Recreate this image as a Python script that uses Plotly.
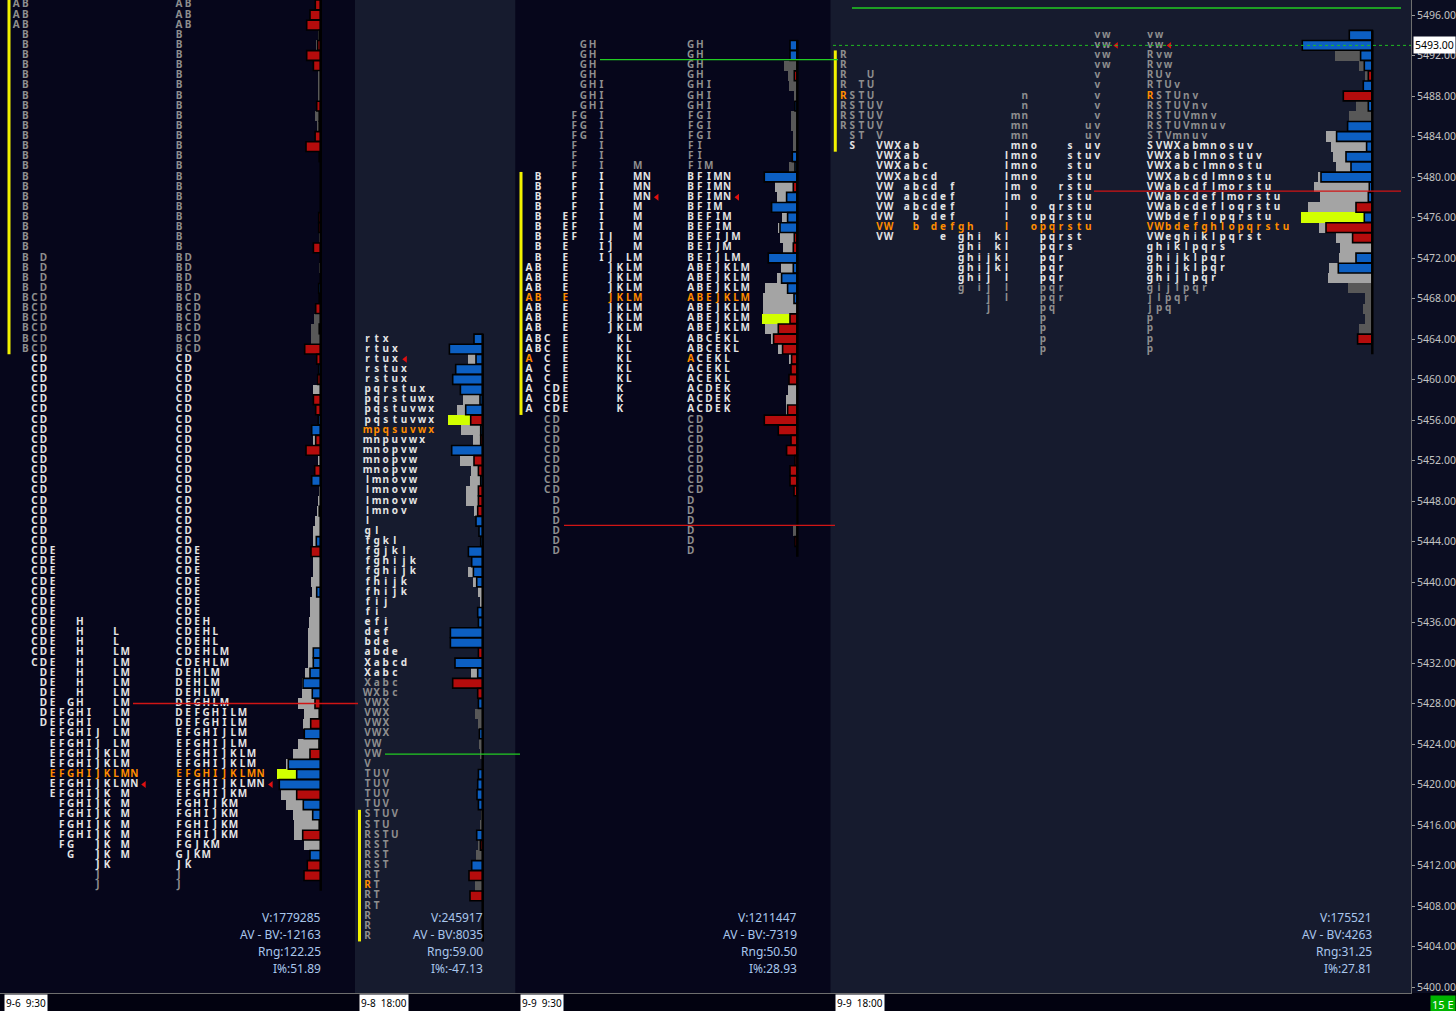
import plotly.graph_objects as go

# ======================= DATA =======================
# ---- Session 1 : 9-6 9:30 (RTH) ----
S1_PERIODS = "ABCDEFGHIJKLMN"
S1_TOP = 5497
S1_RUNS = [("AB", 3), ("B", 22), ("BD", 4), ("BCD", 6), ("CD", 19), ("CDE", 7), ("CDEH", 1),
           ("CDEHL", 2), ("CDEHLM", 2), ("DEHLM", 3), ("DEGHLM", 1), ("DEFGHILM", 2),
           ("EFGHIJLM", 2), ("EFGHIJKLM", 2), ("EFGHIJKLMN", 2), ("EFGHIJKM", 1),
           ("FGHIJKM", 4), ("FGJKM", 1), ("GJKM", 1), ("JK", 1), ("J", 2)]
S1_VOL = [0, 0, 0, 3, 5, 0, 0, 3, 3, 3,
          0, 5.6, 4, 0, 0, 0, 1, 1, 1, 1,
          1, 0, 0, 1.5, 0, 0, 1.5, 1, 0, 0,
          0, 7, 10, 10, 0, 0, 2, 0, 7.3, 0,
          0, 0, 0, 8, 0, 2.5, 0, 0, 2, 3,
          4, 5.5, 7.3, 7.3, 9.6, 7.3, 7.3, 9.6, 9, 10.7,
          10.7, 11.7, 12.3, 13, 13, 13, 15.7, 19, 19, 23,
          16.7, 17.4, 16, 22.4, 28, 34.7, 43.4, 42, 40, 34.7,
          28, 26.4, 26.4, 16.7, 10, 13, 16.7, 0]
S1_DELTA = [-5.4, -10.7, -14, -1.5, -3, -14, -7.3, 0, 0, 0,
            -4, 1.5, -1.5, -5.6, -14.7, -1.5, 0, 0, 0, 0,
            0, -2, -2, 0, -7.3, 0, 0, 0, 2, 1.5,
            -5, 0, -1.5, 0, -16, -4, 2, -3, 0, -7.3,
            -5, 2.5, 9, -5, -14.7, 0, -6, 9, 0, 0,
            1.5, 0, 0, 4.4, -9.7, 0, 0, 0, 4, 0,
            0, 0, 0, 0, 7.4, 7.4, 10.7, 17.7, 8.4, -5.7,
            -1.5, -10, 16.4, 1.7, -10.7, 32.4, 24, 41.4, -24, 17.4,
            8, -1.5, -18, 0, 10.7, -13.4, -16.7, 0]
S1_VA = (5462, 5412)
S1_VOL_VA = (5462, 5412)
S1_POC = 5421
S1_VPOC = 5421
S1_OPEN = None
S1_CLOSE = 5420
S1_IB = (5532, 5463)
S1_STATS = ["V:1779285", "AV - BV:-12163", "Rng:122.25", "I%:51.89"]
S1_LABEL = "9-6\u00a0\u00a09:30"

# ---- Session 2 : 9-8 18:00 (overnight) ----
S2_PERIODS = "RSTUVWXabcdefghijklmnopqrstuvwx"
S2_TOP = 5464
S2_ROWS = ["rtx", "rtux", "rtux", "rstux", "rstux", "pqrstux", "pqrstuwx", "pqstuvwx", "pqstuvwx",
           "mpqsuvwx", "mnpuvwx", "mnopvw", "mnopvw", "mnopvw", "lmnovw", "lmnovw", "lmnovw",
           "lmnov", "l", "gl", "fgkl", "fgjkl", "fghijk", "fghijk", "fhijk", "fhijk", "fij", "fi",
           "efi", "def", "bde", "abde", "Xabcd", "Xabc", "Xabc", "WXbc", "VWX", "VWX", "VWX",
           "VWX", "VW", "VW", "V", "TUV", "TUV", "TUV", "TUV", "STUV", "STU", "RSTU", "RST",
           "RST", "RST", "RT", "RT", "RT", "RT", "R", "R", "R"]
S2_VOL = [0, 0, 14.3, 0, 0, 22, 19.3, 26, 34.7, 21.7,
          10, 0, 22.7, 11.7, 12.7, 16.7, 16.7, 8.3, 0, 0,
          0, 0, 0, 14.3, 9.3, 4.3, 2.7, 0, 0, 0,
          0, 0, 0, 11.7, 0, 0, 0, 7.7, 4.3, 0,
          3.3, 2.7, 0, 0, 0, 0, 0, 2, 2.3, 0,
          4.3, 7, 0, 0, 7.7, 0, 0, 0, 0, 0]
S2_DELTA = [8.7, 33.3, 6.7, 27, 30, 22.3, 2.7, 17, -12, 2,
            -2, 31, -8.7, -4.3, 2, -4.3, -4.3, -5, 6.7, 3.7,
            2, 14.3, 11, 9.3, 6, 0, 0, 5, 4.3, 32.3,
            32.3, -4.3, 27.7, 5, -30, -5, 4.3, 0, 0, 3.3,
            0, 0, 0, 4.3, 5, 5.7, 4.3, 0, 0, 6,
            -2.3, 0, 11, -13.7, 0, -12.7, 0, 0, 0, 0]
S2_VA = (5464, 5431)
S2_VOL_VA = (5464, 5431)
S2_POC = 5455
S2_VPOC = 5456
S2_OPEN = (5410, "R")
S2_CLOSE = 5462
S2_IB = (5417, 5405)
S2_STATS = ["V:245917", "AV - BV:8035", "Rng:59.00", "I%:-47.13"]
S2_LABEL = "9-8\u00a0\u00a018:00"

# ---- Session 3 : 9-9 9:30 (RTH) ----
S3_PERIODS = "ABCDEFGHIJKLMN"
S3_TOP = 5493
S3_RUNS = [("GH", 4), ("GHI", 3), ("FGI", 3), ("FI", 2), ("FIM", 1), ("BFIMN", 3), ("BFIM", 1),
           ("BEFIM", 2), ("BEFIJM", 1), ("BEIJM", 1), ("BEIJLM", 1), ("ABEJKLM", 7),
           ("ABCEKL", 2), ("ACEKL", 3), ("ACDEK", 3), ("CD", 8), ("D", 6)]
S3_VOL = [0, 0, 13, 9.7, 8, 3, 0, 6.7, 6.7, 4,
          4, 0, 8, 33, 22.3, 20.7, 25.7, 15.7, 19.7, 17.3,
          14, 29, 16.7, 20.7, 32.3, 34, 34, 35, 32.3, 26.3,
          19, 8.3, 6.3, 8.3, 9.7, 11.7, 11.7, 33, 19, 0,
          0, 0, 0, 0, 0, 1, 1.5, 1, 4, 0, 0]
S3_DELTA = [7.3, 7.3, 0, -3, 0, 0, 2.3, 0, 0, 0,
            0, 5, 2.3, 33, -4, 10.7, 25.7, 9.7, 17.3, -3,
            -4, 29, 4, 15.7, 9.7, 3.3, 0, -7.3, -19, -23.7,
            -14.7, -5.7, -6.3, -8.3, 0, 0, -9.7, -33, -19, -6.3,
            -10.7, -2.3, -7.3, -7.3, -3.3, 0, 0, 0, 0, -2.3, 0]
S3_VA = (5480, 5457)
S3_VOL_VA = (5480, 5457)
S3_POC = 5468
S3_VPOC = 5466
S3_OPEN = (5462, "A")
S3_CLOSE = 5478
S3_IB = (5480, 5457)
S3_STATS = ["V:1211447", "AV - BV:-7319", "Rng:50.50", "I%:28.93"]
S3_LABEL = "9-9\u00a0\u00a09:30"

# ---- Session 4 : 9-9 18:00 (overnight, in progress) ----
S4_PERIODS = "RSTUVWXabcdefghijklmnopqrstuvw"
S4_TOP = 5494
S4_ROWS = ["vw", "vw", "Rvw", "Rvw", "RUv", "RTUv", "RSTUnv", "RSTUVnv", "RSTUVmnv", "RSTUVmnuv",
           "STVmnuv", "SVWXabmnosuv", "VWXablmnostuv", "VWXabclmnostu", "VWXabcdlmnostu",
           "VWabcdflmorstu", "VWabcdeflmorstu", "VWabcdefloqrstu", "VWbdeflopqrstu",
           "VWbdefghlopqrstu", "VWeghiklpqrst", "ghiklpqrs", "ghijklpqr", "ghijklpqr",
           "ghijlpqr", "gijlpqr", "jlpqr", "jpq", "p", "p", "p", "p"]
S4_VOL = [0, 0, 37.3, 13, 7.3, 0, 0, 16.3, 23, 24.7,
          46.3, 41.3, 39.7, 36.3, 54, 58.3, 52.3, 64, 71.3, 53,
          36.3, 32.3, 33, 43, 44, 24.7, 7.3, 9, 7.3, 13,
          0, 0]
S4_DELTA = [23, 70, 11.7, 8, -4, 9, -29, 4, 0, 24.7,
            35.7, 5.7, 26.3, 21.3, 51.3, 3, 4, -16.3, 8, -46.3,
            -19.7, 0, 16.3, 34, 0, 0, 0, 0, 0, 0,
            -14.7, 0]
S4_VA = (5483, 5470)
S4_VOL_VA = (5484, 5470)
S4_POC = 5475
S4_VPOC = 5476
S4_OPEN = (5488, "R")
S4_CLOSE = 5493
S4_IB = (5492, 5483)
S4_STATS = ["V:175521", "AV - BV:4263", "Rng:31.25", "I%:27.81"]
S4_LABEL = "9-9\u00a0\u00a018:00"

LAST_PRICE = 5493.00
Y_TICKS = list(range(5400, 5497, 4))

# reference levels
LEVEL_PRICES = [5428, 5423, 5491.6, 5445.6, 5496.7, 5478.6]


def expand(runs):
    out = []
    for s, n in runs:
        out += [s] * n
    return out


S1_ROWS = expand(S1_RUNS)
S3_ROWS = expand(S3_RUNS)

# ======================= STYLE / LAYOUT =======================
W, H = 1456, 1011
PLOT_W, PLOT_H = 1411, 993
PX_PER_PT = 10.125
Y_BOTTOM = 5400 - (PLOT_H - 987) / PX_PER_PT
Y_TOP = Y_BOTTOM + PLOT_H / PX_PER_PT
PITCH = 9.07

DARK_BG = "#06061b"
LIGHT_BG = "#161b2e"
AXIS_BG = "#0b0d21"
TXT_WHITE = "#e4e4e4"
TXT_GRAY = "#8e8e8e"
ORANGE = "#ff8c00"
BLUE = "#0c5fc2"
RED = "#b50c0c"
GRAY_LIGHT = "#a4a4a4"
GRAY_DARK = "#585858"
VPOC_COL = "#d2ff00"
STAT_COL = "#a9c6ec"
FONT = "Noto Sans"

SESSIONS = [
    dict(rows=S1_ROWS, top=S1_TOP, per=S1_PERIODS, vol=S1_VOL, delta=S1_DELTA, va=S1_VA,
         vva=S1_VOL_VA, poc=S1_POC, vpoc=S1_VPOC, open=S1_OPEN, close=S1_CLOSE, ib=S1_IB,
         stats=S1_STATS, label=S1_LABEL,
         x0=0, x1=355, bg=DARK_BG, split0=16.3, coll0=179.0, edge=320.7, ib_x=9),
    dict(rows=S2_ROWS, top=S2_TOP, per=S2_PERIODS, vol=S2_VOL, delta=S2_DELTA, va=S2_VA,
         vva=S2_VOL_VA, poc=S2_POC, vpoc=S2_VPOC, open=S2_OPEN, close=S2_CLOSE, ib=S2_IB,
         stats=S2_STATS, label=S2_LABEL,
         x0=355, x1=515.5, bg=LIGHT_BG, split0=None, coll0=367.6, edge=482.7, ib_x=359.5),
    dict(rows=S3_ROWS, top=S3_TOP, per=S3_PERIODS, vol=S3_VOL, delta=S3_DELTA, va=S3_VA,
         vva=S3_VOL_VA, poc=S3_POC, vpoc=S3_VPOC, open=S3_OPEN, close=S3_CLOSE, ib=S3_IB,
         stats=S3_STATS, label=S3_LABEL,
         x0=515.5, x1=830.5, bg=DARK_BG, split0=529.0, coll0=690.7, edge=797.3, ib_x=521),
    dict(rows=S4_ROWS, top=S4_TOP, per=S4_PERIODS, vol=S4_VOL, delta=S4_DELTA, va=S4_VA,
         vva=S4_VOL_VA, poc=S4_POC, vpoc=S4_VPOC, open=S4_OPEN, close=S4_CLOSE, ib=S4_IB,
         stats=S4_STATS, label=S4_LABEL,
         x0=830.5, x1=PLOT_W, bg=LIGHT_BG, split0=843.3, coll0=1150.0, edge=1372.3, ib_x=835.3),
]

# level line segments: (index into LEVEL_PRICES, x start, x end, colour, dash, width)
LEVEL_SEGS = [
    (0, 133, 358, "#d01515", "solid", 1.5),
    (1, 385, 520, "#22cc22", "solid", 1.2),
    (2, 600, 838, "#22cc22", "solid", 1.2),
    (3, 564, 835, "#d01515", "solid", 1.2),
    (4, 852, 1401, "#22cc22", "solid", 1.5),
    (5, 1094, 1401, "#d01515", "solid", 1.2),
]

fig = go.Figure()
shapes = []
annotations = []

# session backgrounds
for s in SESSIONS:
    shapes.append(dict(type="rect", xref="x", yref="paper", x0=s["x0"], x1=s["x1"], y0=0, y1=1,
                       fillcolor=s["bg"], line=dict(width=0), layer="below"))

tx, ty, tt, tc = [], [], [], []
gx, gy, gb, gc = [], [], [], []
dx, dy, db, dc = [], [], [], []
ax, ay = [], []

for s in SESSIONS:
    top = s["top"]
    for i, row in enumerate(s["rows"]):
        p = top - i
        if p == s["poc"]:
            col = ORANGE
        elif s["va"][1] <= p <= s["va"][0]:
            col = TXT_WHITE
        else:
            col = TXT_GRAY
        xs_split_last = None
        xs_coll_last = None
        for k, ch in enumerate(row):
            c = col
            if s["open"] is not None and p == s["open"][0] and ch == s["open"][1]:
                c = ORANGE
            if s["split0"] is not None:
                xx = s["split0"] + s["per"].index(ch) * PITCH
                tx.append(xx); ty.append(p); tt.append(ch); tc.append(c)
                xs_split_last = xx
            xx = s["coll0"] + k * PITCH
            tx.append(xx); ty.append(p); tt.append(ch); tc.append(c)
            xs_coll_last = xx
        if p == s["close"]:
            if xs_split_last is not None:
                ax.append(xs_split_last + 10); ay.append(p)
            ax.append(xs_coll_last + 10.5); ay.append(p)
        # volume histogram
        v = s["vol"][i]
        if v > 0:
            if p == s["vpoc"]:
                gcol = VPOC_COL
            elif s["vva"][1] <= p <= s["vva"][0]:
                gcol = GRAY_LIGHT
            else:
                gcol = GRAY_DARK
            gx.append(-v); gy.append(p); gb.append(s["edge"]); gc.append(gcol)
        d = s["delta"][i]
        if d != 0:
            dx.append(-abs(d)); dy.append(p); db.append(s["edge"]); dc.append(BLUE if d > 0 else RED)
    low = top - len(s["rows"]) + 1
    # black profile spine
    shapes.append(dict(type="line", xref="x", yref="y", x0=s["edge"], x1=s["edge"],
                       y0=low - 0.5, y1=top + 0.5, line=dict(color="#000000", width=2.5),
                       layer="above"))
    # initial balance bar
    shapes.append(dict(type="line", xref="x", yref="y", x0=s["ib_x"], x1=s["ib_x"],
                       y0=s["ib"][1] - 0.5, y1=s["ib"][0] + 0.5,
                       line=dict(color="#f2f200", width=3), layer="above"))
    # stats
    for j, line in enumerate(s["stats"]):
        annotations.append(dict(xref="x", yref="paper", x=s["edge"] + 2,
                                y=1 - (917 + 17 * j) / PLOT_H, text=line, showarrow=False,
                                xanchor="right", yanchor="middle",
                                font=dict(family=FONT, size=12, color=STAT_COL)))
    # date label
    annotations.append(dict(xref="x", yref="paper", x=s["x0"] + 4, y=-1.0 / PLOT_H,
                            text=s["label"], showarrow=False, xanchor="left", yanchor="top",
                            bgcolor="#ffffff", borderpad=1,
                            font=dict(family=FONT, size=10, color="#000000")))

# level lines
for idx, xa, xb, col, dash, wdt in LEVEL_SEGS:
    pr = LEVEL_PRICES[idx]
    shapes.append(dict(type="line", xref="x", yref="y", x0=xa, x1=xb, y0=pr, y1=pr,
                       line=dict(color=col, width=wdt, dash=dash), layer="above"))
# last price dotted line
shapes.append(dict(type="line", xref="x", yref="y", x0=833, x1=PLOT_W, y0=LAST_PRICE,
                   y1=LAST_PRICE, line=dict(color="#22bb22", width=1, dash="dot"), layer="above"))

# bottom strip
shapes.append(dict(type="rect", xref="paper", yref="paper", x0=0, x1=W / PLOT_W,
                   y0=-(H - PLOT_H) / PLOT_H, y1=0, fillcolor="#020210",
                   line=dict(width=0), layer="below"))

fig.add_trace(go.Bar(x=gx, y=gy, base=gb, orientation="h", width=1.0,
                     marker=dict(color=gc, line=dict(width=0)), hoverinfo="skip",
                     showlegend=False))
fig.add_trace(go.Bar(x=dx, y=dy, base=db, orientation="h", width=0.96,
                     marker=dict(color=dc, line=dict(color="#000000", width=1.6)),
                     hoverinfo="skip", showlegend=False))
fig.add_trace(go.Scatter(x=tx, y=ty, text=tt, mode="text", textposition="middle center",
                         textfont=dict(family=FONT, size=10, color=tc, weight="bold"),
                         hoverinfo="skip", showlegend=False))
fig.add_trace(go.Scatter(x=ax, y=ay, mode="markers",
                         marker=dict(symbol="triangle-left", size=6, color="#e01010",
                                     line=dict(width=0)),
                         hoverinfo="skip", showlegend=False))

# current price label and period box
annotations.append(dict(xref="paper", yref="y", x=1.0, xshift=2, y=LAST_PRICE, text="5493.00",
                        showarrow=False, xanchor="left", yanchor="middle", bgcolor="#ffffff",
                        borderpad=1, font=dict(family=FONT, size=10.5, color="#000000")))
annotations.append(dict(xref="paper", yref="paper", x=W / PLOT_W, y=-2.0 / PLOT_H,
                        text="15 E", showarrow=False, xanchor="right", yanchor="top",
                        bgcolor="#00b400", borderpad=1,
                        font=dict(family=FONT, size=11, color="#ffffff")))

fig.update_layout(
    width=W, height=H,
    margin=dict(l=0, r=W - PLOT_W, t=0, b=H - PLOT_H),
    paper_bgcolor=AXIS_BG, plot_bgcolor=DARK_BG,
    barmode="overlay", bargap=0,
    shapes=shapes, annotations=annotations,
    showlegend=False,
    xaxis=dict(range=[0, PLOT_W], showgrid=False, zeroline=False, showticklabels=False,
               ticks="", showline=True, linecolor="#6e6e6e", linewidth=1, fixedrange=True),
    yaxis=dict(range=[Y_BOTTOM, Y_TOP], side="right", showgrid=False, zeroline=False,
               tickvals=Y_TICKS, ticktext=["%.2f" % v for v in Y_TICKS],
               ticks="outside", ticklen=3, tickcolor="#9a9a9a",
               tickfont=dict(family=FONT, size=10.5, color="#c4c4c4"),
               showline=True, linecolor="#6e6e6e", linewidth=1, fixedrange=True),
)

fig.write_html("out.html",
               config={"displayModeBar": False, "staticPlot": True},
               post_script="document.body.style.margin='0';document.body.style.overflow='hidden';")
